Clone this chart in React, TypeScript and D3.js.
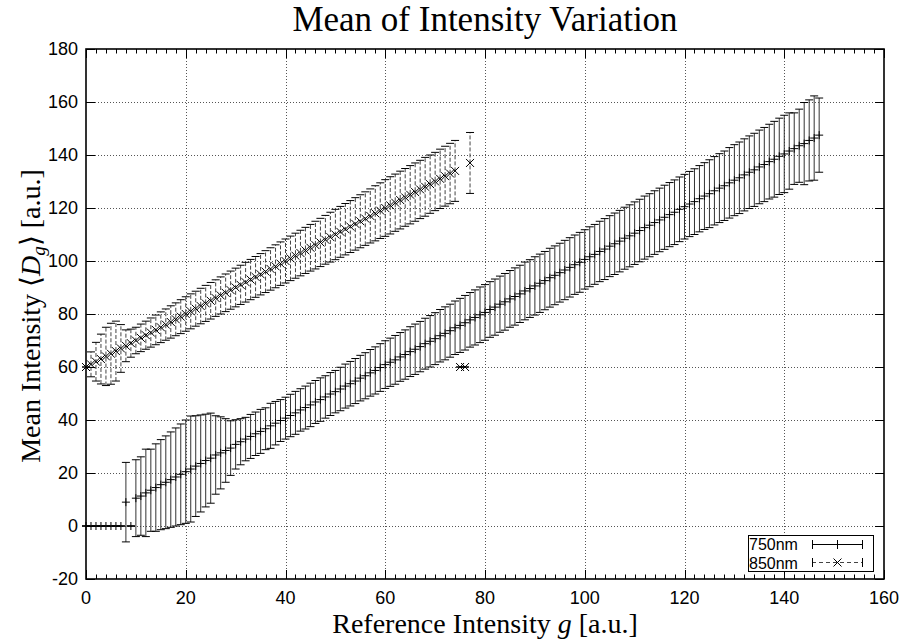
import React from 'react';
import * as d3 from 'd3';

const xTicks = [0, 20, 40, 60, 80, 100, 120, 140, 160];
const yTicks = [-20, 0, 20, 40, 60, 80, 100, 120, 140, 160, 180];

const x750 = [
  0, 1, 2, 3, 4, 5, 6, 7, 8, 9, 10, 11, 12, 13, 14, 15, 16, 17, 18, 19, 20,
  21, 22, 23, 24, 25, 26, 27, 28, 29, 30, 31, 32, 33, 34, 35, 36, 37, 38, 39, 40,
  41, 42, 43, 44, 45, 46, 47, 48, 49, 50, 51, 52, 53, 54, 55, 56, 57, 58, 59, 60,
  61, 62, 63, 64, 65, 66, 67, 68, 69, 70, 71, 72, 73, 74, 75, 76, 77, 78, 79, 80,
  81, 82, 83, 84, 85, 86, 87, 88, 89, 90, 91, 92, 93, 94, 95, 96, 97, 98, 99, 100,
  101, 102, 103, 104, 105, 106, 107, 108, 109, 110, 111, 112, 113, 114, 115, 116, 117, 118, 119, 120,
  121, 122, 123, 124, 125, 126, 127, 128, 129, 130, 131, 132, 133, 134, 135, 136, 137, 138, 139, 140,
  141, 142, 143, 144, 145, 146, 147,
];
const mean750 = [
  0, 0, 0, 0, 0, 0, 0, 0, 9, 0,
  10.5, 11.3, 12.5, 13.5, 14.5, 15.6, 16.5, 17.5, 18.5, 19.5, 20.5,
  21.5, 22.6, 23.6, 24.7, 25.6, 26.8, 27.6, 28.5, 29.4, 30.8,
  31.8, 32.8, 33.8, 34.8, 35.7, 36.7, 37.8, 38.8, 39.8, 40.7,
  41.7, 42.7, 43.8, 44.7, 45.7, 46.8, 47.7, 48.7, 49.8, 50.7,
  51.7, 52.8, 53.7, 54.7, 55.8, 56.7, 57.8, 58.7, 59.8, 60.9,
  61.8, 62.7, 63.8, 64.7, 65.8, 66.7, 67.7, 68.8, 69.7, 70.7,
  71.8, 72.7, 73.7, 74.8, 75.7, 76.7, 77.8, 78.7, 79.7, 80.6,
  81.7, 82.6, 83.7, 84.6, 85.7, 86.6, 87.6, 88.7, 89.6, 90.6,
  91.6, 92.6, 93.7, 94.6, 95.6, 96.6, 97.6, 98.6, 99.5, 100.6,
  101.6, 102.5, 103.6, 104.5, 105.6, 106.5, 107.5, 108.6, 109.5, 110.5,
  111.5, 112.6, 113.5, 114.5, 115.5, 116.5, 117.5, 118.4, 119.5, 120.5,
  121.5, 122.4, 123.5, 124.5, 125.4, 126.5, 127.5, 128.4, 129.5, 130.5,
  131.4, 132.5, 133.5, 134.4, 135.5, 136.4, 137.5, 138.4, 139.5, 140.4,
  141.5, 142.4, 143.5, 144.3, 145.5, 146.4, 147.5,
];
const std750 = [
  0, 0, 0, 0, 0, 0, 0, 0, 15, 0,
  14.5, 14.8, 16.5, 15.5, 16.5, 17, 17.5, 18, 18.5, 19, 19.5,
  20, 19, 18.3, 17.5, 17, 14.8, 13.6, 12, 10.3, 9.3,
  8.7, 8.2, 8.3, 8.2, 8.3, 7.9, 8.5, 8.2, 7.9, 7.9,
  8, 8.1, 8, 8.1, 8.2, 8.1, 8.2, 8, 8.1, 8,
  8.2, 8.3, 8.4, 8.5, 8.6, 8.7, 8.8, 8.9, 9, 9,
  9.1, 9.2, 9.2, 9.3, 9.4, 9.5, 9.5, 9.6, 9.7, 9.8,
  9.9, 10, 10, 10.1, 10.2, 10.3, 10.3, 10.4, 10.5, 10.5,
  10.5, 10.6, 10.6, 10.7, 10.7, 10.8, 10.8, 10.9, 10.9, 11,
  11, 11, 11.1, 11.1, 11.1, 11.2, 11.2, 11.2, 11.3, 11.2,
  11.3, 11.3, 11.4, 11.5, 11.5, 11.6, 11.6, 11.7, 11.7, 11.8,
  11.8, 11.9, 11.9, 12, 12, 12.1, 12.1, 12.2, 12.2, 12.2,
  12.3, 12.4, 12.5, 12.6, 12.8, 12.9, 13, 13.1, 13.3, 13.4,
  13.5, 13.6, 13.7, 13.8, 13.9, 14, 14.1, 14.3, 14.4, 14.6,
  14.4, 13.5, 13.8, 15.5, 15.3, 15.9, 14,
];

const x850 = [
  0, 1, 2, 3, 4, 5, 6, 7, 8, 9, 10, 11, 12, 13, 14, 15, 16, 17, 18, 19, 20,
  21, 22, 23, 24, 25, 26, 27, 28, 29, 30, 31, 32, 33, 34, 35, 36, 37, 38, 39, 40,
  41, 42, 43, 44, 45, 46, 47, 48, 49, 50, 51, 52, 53, 54, 55, 56, 57, 58, 59, 60,
  61, 62, 63, 64, 65, 66, 67, 68, 69, 70, 71, 72, 73, 74, 75, 76, 77,
];
const mean850 = [
  60, 61, 62, 63, 64, 65, 66, 67, 68, 69, 70,
  71, 72, 73, 74, 75, 76, 77, 78, 79, 80,
  81, 82, 83, 84, 85, 86, 87, 88, 89, 90,
  91, 92, 93, 94, 95, 96, 97, 98, 99, 100,
  101, 102, 103, 104, 105, 106, 107, 108, 109, 110,
  111, 112, 113, 114, 115, 116, 117, 118, 119, 120,
  121, 122, 123, 124, 125, 126, 127, 128, 129, 130,
  131, 132, 133, 134, 60, 60, 137,
];
const std850 = [
  0, 4.7, 7.3, 9.4, 11, 11.5, 11.3, 9, 6, 5.3, 5,
  5.2, 5.3, 5.5, 5.6, 5.8, 5.9, 6.1, 6.2, 6.4, 6.5,
  6.6, 6.6, 6.7, 6.8, 6.9, 6.9, 7, 7.1, 7.2, 7.3,
  7.4, 7.5, 7.6, 7.7, 7.8, 7.9, 8, 8.1, 8.2, 8.3,
  8.4, 8.5, 8.6, 8.7, 8.8, 9, 9.1, 9.2, 9.4, 9.5,
  9.6, 9.7, 9.8, 9.9, 10, 10.1, 10.2, 10.4, 10.5, 10.7,
  10.8, 10.8, 10.9, 10.9, 11, 11, 11, 11.1, 11, 11,
  11.2, 11.3, 11.4, 11.5, 0, 0, 11.5,
];

const seriesNames = ['750nm', '850nm'];

const W = 901;
const H = 642;
const L = 86;
const R = 884;
const T = 49;
const B = 579;

const SERIF = '"Liberation Serif", "Times New Roman", serif';
const SANS = '"Liberation Sans", Arial, Helvetica, sans-serif';

export default function App() {
  const xs = d3.scaleLinear().domain([0, 160]).range([L, R]);
  const ys = d3.scaleLinear().domain([-20, 180]).range([B, T]);
  const cap = 4;
  const ms = 4;

  const minorX = d3.range(0, 161, 2).filter((v) => v % 20 !== 0);

  return (
    <svg
      width={W}
      height={H}
      style={{ position: 'absolute', left: 0, top: 0, background: '#fff' }}
      xmlns="http://www.w3.org/2000/svg"
    >
      <rect x={0} y={0} width={W} height={H} fill="#fff" />
      {/* grid */}
      <g stroke="#555" strokeWidth={1} strokeDasharray="1,2">
        {xTicks.filter((v) => v > 0 && v < 160).map((v) => (
          <line key={'gx' + v} x1={Math.round(xs(v)) + 0.5} x2={Math.round(xs(v)) + 0.5} y1={T} y2={B} />
        ))}
        {yTicks.filter((v) => v > -20 && v < 180).map((v) => (
          <line key={'gy' + v} x1={L} x2={R} y1={Math.round(ys(v)) + 0.5} y2={Math.round(ys(v)) + 0.5} />
        ))}
      </g>

      {/* 750nm series */}
      <g stroke="#000" strokeWidth={1} fill="none">
        {x750.map((xv, i) => {
          const px = xs(xv);
          const m = mean750[i];
          const s = std750[i];
          const y1 = ys(m - s);
          const y2 = ys(m + s);
          const pm = ys(m);
          return (
            <g key={'a' + i}>
              {s > 0 && <line x1={px} x2={px} y1={y1} y2={y2} stroke="#333" />}
              <line x1={px - cap} x2={px + cap} y1={y1} y2={y1} />
              <line x1={px - cap} x2={px + cap} y1={y2} y2={y2} />
              <line x1={px - ms} x2={px + ms} y1={pm} y2={pm} />
              <line x1={px} x2={px} y1={pm - ms} y2={pm + ms} />
            </g>
          );
        })}
      </g>

      {/* 850nm series */}
      <g stroke="#000" strokeWidth={1} fill="none">
        {x850.map((xv, i) => {
          const px = xs(xv);
          const m = mean850[i];
          const s = std850[i];
          const y1 = ys(m - s);
          const y2 = ys(m + s);
          const pm = ys(m);
          return (
            <g key={'b' + i}>
              {s > 0 && <line x1={px} x2={px} y1={y1} y2={y2} stroke="#444" strokeDasharray="4,2" />}
              <line x1={px - cap} x2={px + cap} y1={y1} y2={y1} />
              <line x1={px - cap} x2={px + cap} y1={y2} y2={y2} />
              <line x1={px - ms} x2={px + ms} y1={pm - ms} y2={pm + ms} />
              <line x1={px - ms} x2={px + ms} y1={pm + ms} y2={pm - ms} />
            </g>
          );
        })}
      </g>

      {/* ticks */}
      <g stroke="#000" strokeWidth={1}>
        {xTicks.map((v) => {
          const px = Math.round(xs(v)) + 0.5;
          return (
            <g key={'tx' + v}>
              <line x1={px} x2={px} y1={B} y2={B - 9} />
              <line x1={px} x2={px} y1={T} y2={T + 9} />
            </g>
          );
        })}
        {minorX.map((v) => {
          const px = Math.round(xs(v)) + 0.5;
          return (
            <g key={'mx' + v}>
              <line x1={px} x2={px} y1={B} y2={B - 4.5} />
              <line x1={px} x2={px} y1={T} y2={T + 4.5} />
            </g>
          );
        })}
        {yTicks.map((v) => {
          const py = Math.round(ys(v)) + 0.5;
          return (
            <g key={'ty' + v}>
              <line x1={L} x2={L + 9} y1={py} y2={py} />
              <line x1={R} x2={R - 9} y1={py} y2={py} />
            </g>
          );
        })}
      </g>

      {/* border */}
      <rect x={L} y={T} width={R - L} height={B - T} fill="none" stroke="#000" strokeWidth={1.6} />

      {/* tick labels */}
      <g fontFamily={SANS} fontSize={18} fill="#000">
        {xTicks.map((v) => (
          <text key={'lx' + v} x={xs(v)} y={B + 25} textAnchor="middle">{v}</text>
        ))}
        {yTicks.map((v) => (
          <text key={'ly' + v} x={L - 8} y={ys(v) + 6} textAnchor="end">{v}</text>
        ))}
      </g>

      {/* legend */}
      <g>
        <rect x={748.5} y={535.5} width={125} height={36} fill="#fff" stroke="#000" strokeWidth={1} />
        <text x={749} y={550} fontFamily={SANS} fontSize={16}>{seriesNames[0]}</text>
        <text x={749} y={568.5} fontFamily={SANS} fontSize={16}>{seriesNames[1]}</text>
        <g stroke="#000" strokeWidth={1}>
          <line x1={812} x2={863} y1={544.5} y2={544.5} />
          <line x1={812.5} x2={812.5} y1={540} y2={549} />
          <line x1={862.5} x2={862.5} y1={540} y2={549} />
          <line x1={837.5} x2={837.5} y1={540} y2={549} />
          <line x1={812} x2={863} y1={562.5} y2={562.5} strokeDasharray="4,3" stroke="#444" />
          <line x1={812.5} x2={812.5} y1={558} y2={567} />
          <line x1={862.5} x2={862.5} y1={558} y2={567} />
          <line x1={833.5} x2={841.5} y1={558.5} y2={566.5} />
          <line x1={833.5} x2={841.5} y1={566.5} y2={558.5} />
        </g>
      </g>

      {/* title and axis labels */}
      <text x={485} y={31} textAnchor="middle" fontFamily={SERIF} fontSize={35}>
        Mean of Intensity Variation
      </text>
      <text x={485} y={633} textAnchor="middle" fontFamily={SERIF} fontSize={28}>
        Reference Intensity <tspan fontStyle="italic">g</tspan> [a.u.]
      </text>
      <text
        transform={`translate(40, ${(T + B) / 2 + 2}) rotate(-90)`}
        textAnchor="middle"
        fontFamily={SERIF}
        fontSize={28}
      >
        Mean Intensity ⟨<tspan fontStyle="italic">D</tspan>
        <tspan fontStyle="italic" fontSize={19} dy={5}>g</tspan>
        <tspan dy={-5}>⟩ [a.u.]</tspan>
      </text>
    </svg>
  );
}
